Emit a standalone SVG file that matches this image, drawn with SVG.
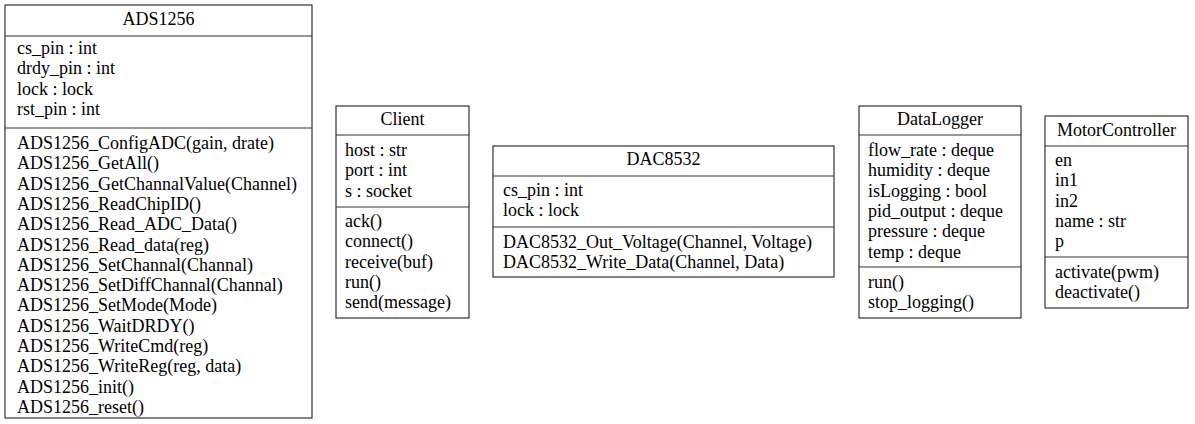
<svg xmlns="http://www.w3.org/2000/svg" width="1195" height="424" viewBox="0 0 1195 424">
<style>
.box{fill:#fff;stroke:#333;stroke-width:1.2}
.sep{stroke:#333;stroke-width:1.2}
.t{text-anchor:middle}
</style>
<rect width="1195" height="424" fill="#fff"/>
<g font-family="'Liberation Serif', 'Times New Roman', serif" font-size="18" fill="#000">
<g id="ADS1256">
<rect class="box" x="5" y="5" width="307" height="413"/>
<line class="sep" x1="5" y1="36" x2="312" y2="36"/>
<line class="sep" x1="5" y1="128" x2="312" y2="128"/>
<text class="t" x="158.5" y="25">ADS1256</text>
<text x="17" y="54">cs_pin : int</text>
<text x="17" y="74.3">drdy_pin : int</text>
<text x="17" y="94.6">lock : lock</text>
<text x="17" y="115">rst_pin : int</text>
<text x="17" y="149">ADS1256_ConfigADC(gain, drate)</text>
<text x="17" y="169.3">ADS1256_GetAll()</text>
<text x="17" y="189.6">ADS1256_GetChannalValue(Channel)</text>
<text x="17" y="209.9">ADS1256_ReadChipID()</text>
<text x="17" y="230.2">ADS1256_Read_ADC_Data()</text>
<text x="17" y="250.5">ADS1256_Read_data(reg)</text>
<text x="17" y="270.8">ADS1256_SetChannal(Channal)</text>
<text x="17" y="291.1">ADS1256_SetDiffChannal(Channal)</text>
<text x="17" y="311.4">ADS1256_SetMode(Mode)</text>
<text x="17" y="331.7">ADS1256_WaitDRDY()</text>
<text x="17" y="352">ADS1256_WriteCmd(reg)</text>
<text x="17" y="372.3">ADS1256_WriteReg(reg, data)</text>
<text x="17" y="392.6">ADS1256_init()</text>
<text x="17" y="413">ADS1256_reset()</text>
</g>
<g id="Client">
<rect class="box" x="336" y="106" width="133" height="212"/>
<line class="sep" x1="336" y1="135" x2="469" y2="135"/>
<line class="sep" x1="336" y1="207" x2="469" y2="207"/>
<text class="t" x="402.5" y="125">Client</text>
<text x="345" y="156">host : str</text>
<text x="345" y="176.3">port : int</text>
<text x="345" y="196.6">s : socket</text>
<text x="345" y="227">ack()</text>
<text x="345" y="247.3">connect()</text>
<text x="345" y="267.6">receive(buf)</text>
<text x="345" y="287.9">run()</text>
<text x="345" y="308.2">send(message)</text>
</g>
<g id="DAC8532">
<rect class="box" x="493" y="146" width="341" height="131"/>
<line class="sep" x1="493" y1="176" x2="834" y2="176"/>
<line class="sep" x1="493" y1="227" x2="834" y2="227"/>
<text class="t" x="663.5" y="165">DAC8532</text>
<text x="503" y="196">cs_pin : int</text>
<text x="503" y="216.3">lock : lock</text>
<text x="503" y="247.5">DAC8532_Out_Voltage(Channel, Voltage)</text>
<text x="503" y="267.8">DAC8532_Write_Data(Channel, Data)</text>
</g>
<g id="DataLogger">
<rect class="box" x="859" y="106" width="162" height="212"/>
<line class="sep" x1="859" y1="135" x2="1021" y2="135"/>
<line class="sep" x1="859" y1="267" x2="1021" y2="267"/>
<text class="t" x="940" y="125">DataLogger</text>
<text x="868" y="156">flow_rate : deque</text>
<text x="868" y="176.3">humidity : deque</text>
<text x="868" y="196.6">isLogging : bool</text>
<text x="868" y="216.9">pid_output : deque</text>
<text x="868" y="237.2">pressure : deque</text>
<text x="868" y="257.5">temp : deque</text>
<text x="868" y="288">run()</text>
<text x="868" y="308.3">stop_logging()</text>
</g>
<g id="MotorController">
<rect class="box" x="1045" y="116" width="143" height="192"/>
<line class="sep" x1="1045" y1="146" x2="1188" y2="146"/>
<line class="sep" x1="1045" y1="257" x2="1188" y2="257"/>
<text class="t" x="1116.5" y="136">MotorController</text>
<text x="1055" y="166">en</text>
<text x="1055" y="186.3">in1</text>
<text x="1055" y="206.6">in2</text>
<text x="1055" y="226.9">name : str</text>
<text x="1055" y="247.2">p</text>
<text x="1055" y="278">activate(pwm)</text>
<text x="1055" y="298.3">deactivate()</text>
</g>
</g>
<g id="connectors"/>
</svg>
